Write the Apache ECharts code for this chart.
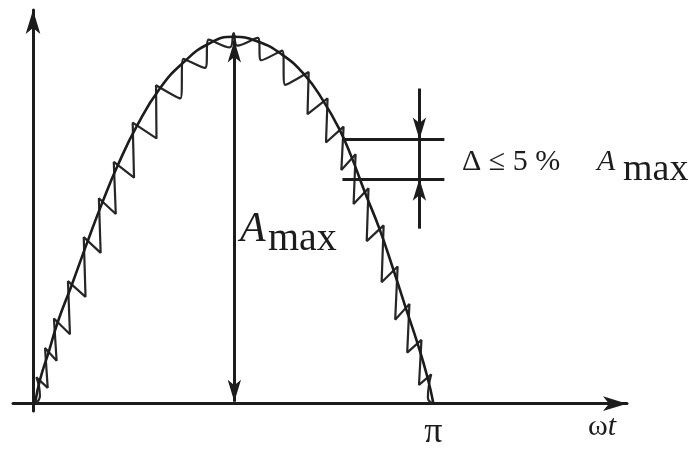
<!DOCTYPE html>
<html>
<head>
<meta charset="utf-8">
<script src="https://cdn.jsdelivr.net/npm/echarts@6/dist/echarts.min.js"></script>
<style>
  html, body { margin: 0; padding: 0; background: #ffffff; }
  #chart { width: 694px; height: 451px; }
</style>
</head>
<body>
<div id="chart"></div>
<script>
// Half-wave over 0..π (x in degrees, y in % of A max).
// Smooth envelope of the wave.
const envelope = [
  [0.9, 0], [3.1, 6.4], [7.2, 14.4], [11.2, 22.4], [17.5, 32.5], [24.7, 44.5],
  [31.4, 55.2], [38.2, 65.1], [46.7, 75.7], [57.0, 85.9], [67.8, 93.1], [79.0, 98.1],
  [90.2, 100], [101.0, 98.7], [111.8, 95.2], [122.1, 89.6], [130.6, 82.4], [137.8, 74.7],
  [143.2, 67.2], [149.0, 57.9], [155.7, 47.7], [162.0, 36.5], [167.4, 26.4], [172.8, 16.5],
  [177.3, 7.2], [180, 0]
];

// Rippled trace: on the rising flank it sags then jumps back up past the envelope,
// on the falling flank it drops first and then creeps back to it.
const ripple = [
  [0.9, 0], [3.1, 2.1],
  [1.5, 7.2], [6.6, 4.3],
  [5.4, 15.2], [10.6, 11.7],
  [9.4, 23.2], [16.6, 18.9],
  [15.7, 33.4], [23.6, 29.1],
  [22.8, 45.4], [30.4, 41.1],
  [29.6, 56.0], [37.2, 51.7],
  [36.3, 65.9], [45.4, 61.6],
  [44.8, 76.6], [55.5, 72.3],
  [55.3, 86.8], [66.2, 83.2],
  [67.6, 94.0], [77.3, 91.5],
  [79.0, 99.2], [88.5, 97.1],
  [90.2, 101.0], [91.8, 97.6],
  [101.0, 99.7], [102.6, 93.6],
  [112.0, 96.2], [113.3, 86.9],
  [123.9, 90.4], [123.4, 78.9],
  [132.4, 83.2], [131.7, 71.2],
  [139.6, 75.5], [138.6, 63.7],
  [145.0, 68.0], [144.1, 54.4],
  [150.8, 58.7], [150.0, 44.3],
  [157.6, 48.6], [156.7, 33.1],
  [163.9, 37.4], [162.8, 22.9],
  [169.2, 27.2], [168.2, 13.9],
  [174.6, 17.4], [173.5, 5.1],
  [179.0, 8.0], [177.5, 1.6],
  [180, 0]
];

// Tick shown on the ωt axis and its text.
const xTickValues = [180];
const xTickLabels = ['π'];

// A max marker and the ripple band (Δ) marker.
const amaxX = 90.5;
const amaxSpan = [0.5, 99.0];
const bandX = [139.1, 184.9];
const bandLevels = [72.0, 61.3];
const bandArrowX = 173.7;
const bandArrowEnds = [85.9, 47.7];

const ink = '#1c1c1c';
const serif = '"Liberation Serif", "DejaVu Serif", serif';

const chart = echarts.init(document.getElementById('chart'), null, { renderer: 'canvas' });

const arrowHead = [10, 22];
const arrowEnd = (from, to) => [
  { coord: from, symbol: 'none' },
  { coord: to, symbol: 'arrow', symbolSize: arrowHead }
];
const plain = (from, to) => [
  { coord: from, symbol: 'none' },
  { coord: to, symbol: 'none' }
];

chart.setOption({
  animation: false,
  backgroundColor: '#ffffff',
  grid: { left: 13, right: 67, top: 10, bottom: 31 },
  xAxis: {
    type: 'value',
    min: -9,
    max: 267,
    splitLine: { show: false },
    axisTick: { show: false },
    axisLine: {
      onZero: true,
      symbol: ['none', 'arrow'],
      symbolSize: [11, 24],
      lineStyle: { color: ink, width: 3 }
    },
    axisLabel: {
      customValues: xTickValues,
      formatter: (v) => xTickLabels[xTickValues.indexOf(v)] || '',
      color: ink,
      fontFamily: serif,
      fontSize: 36,
      margin: 4
    },
    name: '{w|ω}{t|t}',
    nameLocation: 'end',
    nameGap: -39,
    nameTextStyle: {
      align: 'left',
      verticalAlign: 'top',
      padding: [8, 0, 0, 0],
      rich: {
        w: { fontFamily: serif, fontSize: 30, color: ink },
        t: { fontFamily: serif, fontSize: 30, fontStyle: 'italic', color: ink }
      }
    }
  },
  yAxis: {
    type: 'value',
    min: -2,
    max: 107.3,
    splitLine: { show: false },
    axisTick: { show: false },
    axisLabel: { show: false },
    axisLine: {
      onZero: true,
      symbol: ['none', 'arrow'],
      symbolSize: [11, 24],
      lineStyle: { color: ink, width: 3 }
    }
  },
  series: [
    {
      name: 'envelope',
      type: 'line',
      data: envelope,
      smooth: 0.5,
      showSymbol: false,
      silent: true,
      lineStyle: { color: ink, width: 2.6 },
      z: 3
    },
    {
      name: 'ripple',
      type: 'line',
      data: ripple,
      smooth: 0.5,
      showSymbol: false,
      silent: true,
      lineStyle: { color: '#262626', width: 2.2 },
      z: 2
    },
    {
      name: 'markers',
      type: 'line',
      data: [],
      silent: true,
      markLine: {
        silent: true,
        animation: false,
        label: { show: false },
        lineStyle: { color: ink, width: 3, type: 'solid' },
        emphasis: { disabled: true },
        data: [
          [
            { coord: [amaxX, amaxSpan[0]], symbol: 'arrow', symbolSize: arrowHead },
            { coord: [amaxX, amaxSpan[1]], symbol: 'arrow', symbolSize: arrowHead }
          ],
          plain([bandX[0], bandLevels[0]], [bandX[1], bandLevels[0]]),
          plain([bandX[0], bandLevels[1]], [bandX[1], bandLevels[1]]),
          plain([bandArrowX, bandLevels[0]], [bandArrowX, bandLevels[1]]),
          arrowEnd([bandArrowX, bandArrowEnds[0]], [bandArrowX, bandLevels[0]]),
          arrowEnd([bandArrowX, bandArrowEnds[1]], [bandArrowX, bandLevels[1]])
        ]
      }
    }
  ],
  graphic: [
    { type: 'text', x: 240, y: 230, style: { text: 'A', font: 'italic 42px ' + serif, fill: ink, align: 'left', verticalAlign: 'middle' } },
    { type: 'text', x: 268, y: 239, style: { text: 'max', font: '40px ' + serif, fill: ink, align: 'left', verticalAlign: 'middle' } },
    { type: 'text', x: 462, y: 162, style: { text: 'Δ ≤ 5 %', font: '30px ' + serif, fill: ink, align: 'left', verticalAlign: 'middle' } },
    { type: 'text', x: 597, y: 162, style: { text: 'A', font: 'italic 30px ' + serif, fill: ink, align: 'left', verticalAlign: 'middle' } },
    { type: 'text', x: 623, y: 170, style: { text: 'max', font: '38px ' + serif, fill: ink, align: 'left', verticalAlign: 'middle' } }
  ]
});
</script>
</body>
</html>
